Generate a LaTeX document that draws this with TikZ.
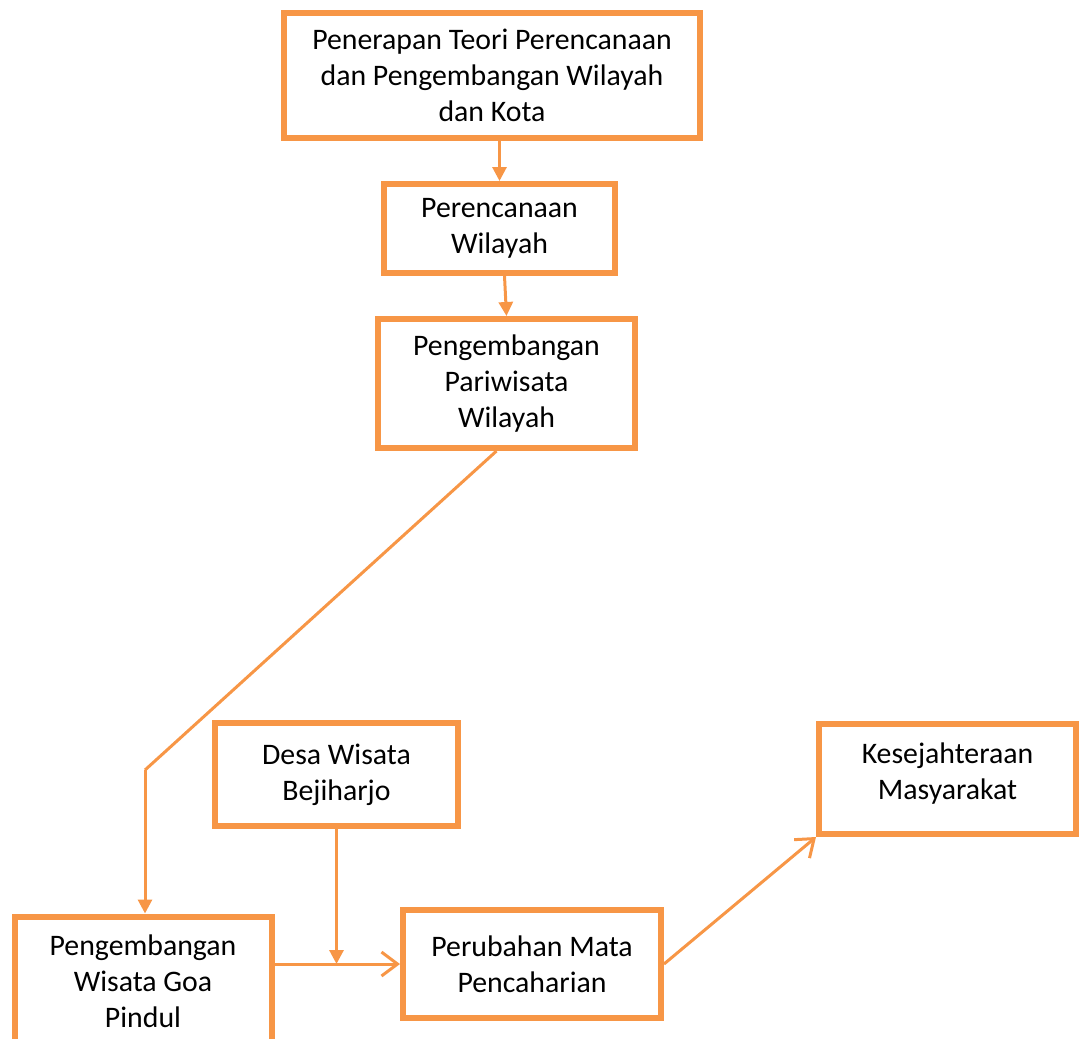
\documentclass[tikz,border=0pt]{standalone}
\usepackage{fontspec}
\setmainfont{Carlito}
\usetikzlibrary{arrows.meta,positioning}
\definecolor{boxorange}{HTML}{F79646}
\tikzset{
  basic/.style  = {draw=boxorange, line width=3pt, rectangle, align=center,
                   font=\fontsize{14.9}{18}\selectfont, inner sep=0pt},
  topic/.style  = {basic, minimum width=208pt, minimum height=62.5pt},
  plan/.style   = {basic, minimum width=115.5pt, minimum height=44.5pt},
  tourism/.style = {basic, minimum width=128.5pt, minimum height=64.5pt},
  village/.style = {basic, minimum width=121.5pt, minimum height=51.5pt},
  result/.style = {basic, minimum width=128.5pt, minimum height=54pt},
  link/.style   = {draw=boxorange, line width=1.5pt},
  flow/.style   = {link, -{Triangle[width=7pt,length=7pt]}},
  open/.style   = {link, -{Straight Barb[width=12pt,length=8pt,line width=1.5pt]}}
}

\begin{document}
\begin{tikzpicture}[x=0.5pt, y=-0.5pt]

\useasboundingbox (0,0) rectangle (1079,1038);

% chain from theory down to regional tourism
\node[topic] (teori) at (492,75.5) {Penerapan Teori Perencanaan\\dan Pengembangan Wilayah\\dan Kota};
\node[plan] (rencana) at (499.5,228.5) {Perencanaan\\Wilayah};
\node[tourism] (pariwisata) at (506.5,383.5) {Pengembangan\\Pariwisata\\Wilayah};

% lower row
\node[village] (desa) at (336.5,774.5) {Desa Wisata\\Bejiharjo};
\node[tourism] (goa) at (143,981) {Pengembangan\\Wisata Goa\\Pindul};
\node[result, minimum width=129pt] (mata) at (532,964) {Perubahan Mata\\Pencaharian};
\node[result, minimum height=55pt, text depth=8pt] (sejahtera) at (947.5,779) {Kesejahteraan\\Masyarakat};

\coordinate (bend) at (145,770);

% connectors
\draw[flow] (rencana.north |- teori.south) -- (rencana.north);
\draw[flow] ([xshift=2.5pt]rencana.south) -- (pariwisata.north);
\draw[link] ([xshift=-5pt]pariwisata.south) -- (bend);
\draw[flow] (bend) -- (bend |- goa.north);
\draw[flow] (desa.south) -- (desa.south |- mata.west);
\draw[open] (goa.east |- mata.west) -- (mata.west);
\draw[open] (mata.east) -- (sejahtera.south west);

\end{tikzpicture}
\end{document}
